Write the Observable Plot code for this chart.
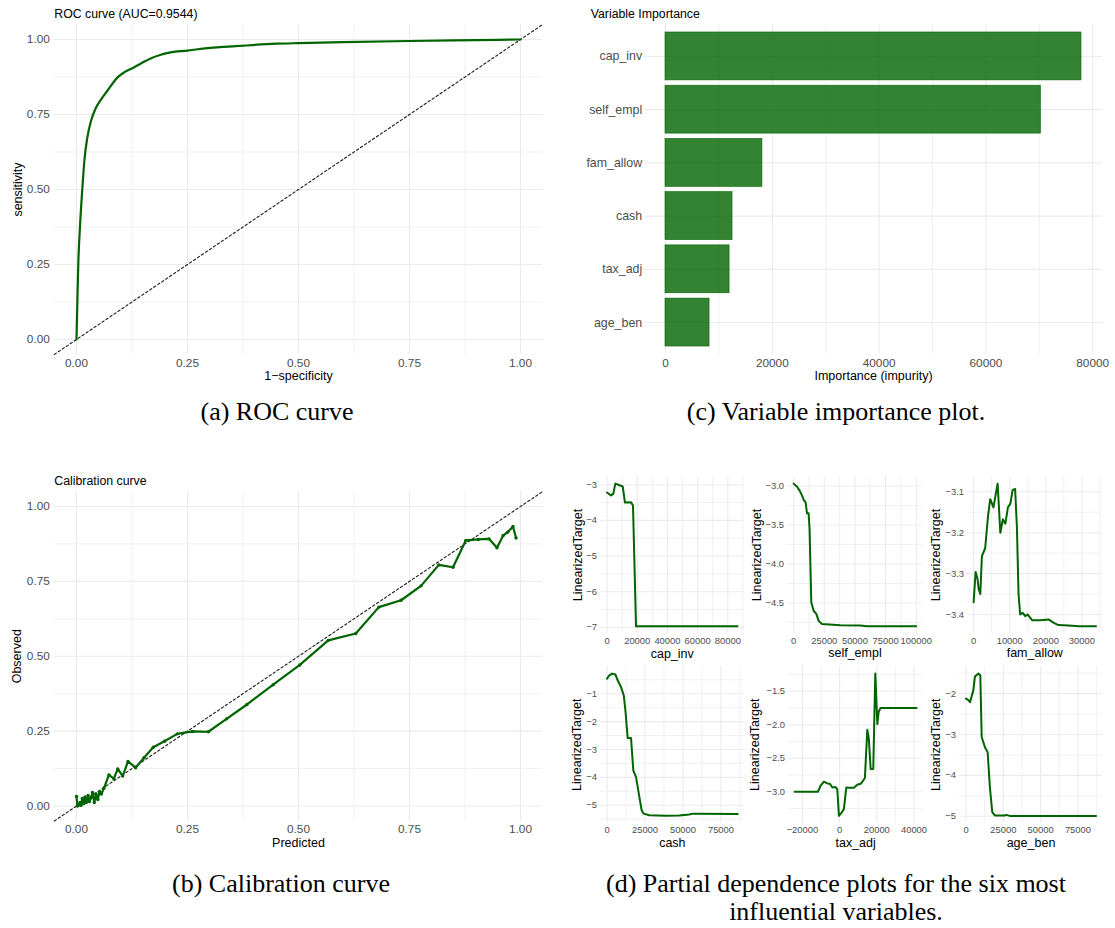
<!DOCTYPE html>
<html>
<head>
<meta charset="utf-8">
<script src="https://cdn.jsdelivr.net/npm/d3@7"></script>
<script src="https://cdn.jsdelivr.net/npm/@observablehq/plot@0.6"></script>
<style>
  html, body { margin: 0; padding: 0; background: #fff; }
  #fig { position: relative; width: 1115px; height: 928px; overflow: hidden; }
  .cap { position: absolute; font-family: "Liberation Serif", "Times New Roman", serif; font-size: 26px; line-height: 28px; text-align: center; color: #000; white-space: nowrap; }
</style>
</head>
<body>
<div id="fig"></div>
<script>
// ---------- data ----------
// (a) ROC curve
const rocFpr = [0, 0.002, 0.004, 0.008, 0.013, 0.018, 0.024, 0.033, 0.043, 0.054, 0.07, 0.092, 0.11, 0.129, 0.15, 0.167, 0.19, 0.212, 0.25, 0.28, 0.35, 0.45, 0.5, 0.6, 0.75, 0.9, 1];
const rocTpr = [0, 0.13, 0.25, 0.38, 0.5, 0.6, 0.67, 0.73, 0.77, 0.797, 0.83, 0.873, 0.893, 0.907, 0.924, 0.937, 0.949, 0.957, 0.963, 0.969, 0.977, 0.986, 0.988, 0.991, 0.995, 0.998, 1];
const rocAuc = "0.9544";

// (b) calibration curve
const calPred = [0.000, 0.002, 0.005, 0.008, 0.010, 0.013, 0.016, 0.019, 0.022, 0.026, 0.029, 0.033, 0.036, 0.040, 0.044, 0.048, 0.052, 0.056, 0.062, 0.073, 0.084, 0.093, 0.104, 0.116, 0.133, 0.152, 0.173, 0.198, 0.227, 0.261, 0.297, 0.338, 0.384, 0.443, 0.503, 0.567, 0.629, 0.681, 0.731, 0.776, 0.816, 0.848, 0.877, 0.905, 0.929, 0.947, 0.961, 0.971, 0.983, 0.990];
const calObs  = [0.032, 0.000, 0.003, 0.012, 0.002, 0.025, 0.008, 0.030, 0.012, 0.035, 0.015, 0.028, 0.045, 0.012, 0.040, 0.022, 0.048, 0.040, 0.060, 0.104, 0.091, 0.124, 0.100, 0.149, 0.128, 0.161, 0.196, 0.216, 0.241, 0.249, 0.248, 0.291, 0.339, 0.405, 0.471, 0.553, 0.576, 0.664, 0.687, 0.735, 0.805, 0.797, 0.887, 0.890, 0.892, 0.862, 0.903, 0.914, 0.933, 0.895];
const unitTicks = [0, 0.25, 0.5, 0.75, 1];
const unitMinor = [0.125, 0.375, 0.625, 0.875];
const unitDomain = [-0.05, 1.05];

// (c) variable importance
const vipVars = ["cap_inv", "self_empl", "fam_allow", "cash", "tax_adj", "age_ben"];
const vipImportance = [77900, 70300, 18150, 12550, 12000, 8250];
const vipTicks = [0, 20000, 40000, 60000, 80000];

// (d) partial dependence
const capInvX = [0, 2600, 4200, 5500, 10400, 11900, 15900, 17200, 19200, 86400];
const capInvY = [-3.22, -3.30, -3.25, -2.97, -3.05, -3.50, -3.49, -3.58, -6.97, -6.97];
const selfEmplX = [0, 2800, 4900, 6800, 8200, 9800, 10900, 12200, 13000, 13600, 14400, 16300, 18500, 20400, 23100, 38000, 54300, 59800, 100000];
const selfEmplY = [-2.97, -3.01, -3.06, -3.12, -3.18, -3.21, -3.35, -3.35, -3.55, -3.96, -4.49, -4.60, -4.64, -4.73, -4.77, -4.785, -4.79, -4.80, -4.80];
const famAllowX = [0, 550, 1100, 1400, 1850, 2300, 3200, 4000, 4600, 5500, 6200, 6650, 7400, 8100, 8800, 9500, 10200, 10800, 11500, 12000, 12450, 12900, 13600, 14300, 14950, 16200, 18500, 20800, 22100, 23500, 26300, 29100, 33900];
const famAllowY = [-3.37, -3.296, -3.314, -3.338, -3.35, -3.257, -3.238, -3.159, -3.118, -3.138, -3.102, -3.08, -3.20, -3.167, -3.178, -3.138, -3.129, -3.096, -3.093, -3.188, -3.351, -3.40, -3.396, -3.404, -3.40, -3.414, -3.414, -3.412, -3.42, -3.426, -3.427, -3.429, -3.429];
const cashX = [0, 1500, 3300, 5500, 7000, 9200, 11000, 12100, 13600, 15800, 17300, 19100, 21300, 22800, 24100, 27800, 38800, 47600, 54100, 56400, 86000];
const cashY = [-0.46, -0.34, -0.28, -0.31, -0.52, -0.76, -1.06, -1.60, -2.59, -2.59, -3.75, -3.99, -4.71, -5.18, -5.30, -5.36, -5.38, -5.37, -5.33, -5.30, -5.31];
const taxAdjX = [-24200, -11650, -10200, -8400, -6600, -5200, -3900, -2200, -1250, -360, 1100, 2300, 3600, 5000, 7700, 9500, 11600, 13600, 14900, 15700, 16700, 18100, 19200, 20300, 21000, 22000, 41400];
const taxAdjY = [-3.0, -3.0, -2.91, -2.85, -2.876, -2.88, -2.936, -2.93, -2.96, -3.36, -3.31, -3.26, -2.936, -2.94, -2.94, -2.895, -2.876, -2.795, -2.076, -2.20, -2.66, -2.66, -1.238, -1.99, -1.81, -1.75, -1.75];
const ageBenX = [0, 1600, 2700, 4900, 6000, 8300, 9600, 10500, 12700, 14500, 16000, 17600, 19300, 26000, 27100, 29300, 87100];
const ageBenY = [-2.12, -2.16, -2.21, -1.92, -1.58, -1.51, -1.55, -3.06, -3.31, -3.43, -4.29, -4.90, -4.98, -4.98, -4.965, -4.99, -4.99];

const capInvXTicks = [0, 20000, 40000, 60000, 80000], capInvYTicks = [-7, -6, -5, -4, -3];
const selfEmplXTicks = [0, 25000, 50000, 75000, 100000], selfEmplYTicks = [-4.5, -4.0, -3.5, -3.0];
const famAllowXTicks = [0, 10000, 20000, 30000], famAllowYTicks = [-3.4, -3.3, -3.2, -3.1];
const cashXTicks = [0, 25000, 50000, 75000], cashYTicks = [-5, -4, -3, -2, -1];
const taxAdjXTicks = [-20000, 0, 20000, 40000], taxAdjYTicks = [-3.0, -2.5, -2.0, -1.5];
const ageBenXTicks = [0, 25000, 50000, 75000], ageBenYTicks = [-5, -4, -3, -2];

// ---------- helpers ----------
const GREEN = "#006400";
const GRID = "#ebebeb";
const TICK = "#4d4d4d";
const SANS = "'Liberation Sans', Arial, Helvetica, sans-serif";
const fig = document.getElementById("fig");

const table = (xs, ys) => xs.map((x, i) => ({x, y: ys[i]}));
const expand = (values, f = 0.05) => { const [a, b] = d3.extent(values); const p = (b - a) * f; return [a - p, b + p]; };
function minorOf(major, domain) {
  const s = major[1] - major[0];
  const ext = [major[0] - s, ...major, major[major.length - 1] + s];
  const out = [];
  for (let i = 0; i < ext.length - 1; i++) {
    const m = (ext[i] + ext[i + 1]) / 2;
    if (m >= domain[0] && m <= domain[1]) out.push(m);
  }
  return out;
}
function layout(box, panel) {
  return {
    width: box.w, height: box.h,
    marginLeft: panel.l - box.x,
    marginRight: box.x + box.w - panel.r,
    marginTop: panel.t - box.y,
    marginBottom: box.y + box.h - panel.b
  };
}
function mount(svg, box) {
  svg.style.position = "absolute";
  svg.style.left = box.x + "px";
  svg.style.top = box.y + "px";
  fig.appendChild(svg);
}
function gridLines(xMajor, xMinor, yMajor, yMinor) {
  const marks = [];
  if (xMinor) marks.push(Plot.gridX(xMinor, {stroke: GRID, strokeOpacity: 1, strokeWidth: 0.7}));
  if (yMinor) marks.push(Plot.gridY(yMinor, {stroke: GRID, strokeOpacity: 1, strokeWidth: 0.7}));
  if (xMajor) marks.push(Plot.gridX(xMajor, {stroke: GRID, strokeOpacity: 1, strokeWidth: 1.1}));
  if (yMajor) marks.push(Plot.gridY(yMajor, {stroke: GRID, strokeOpacity: 1, strokeWidth: 1.1}));
  return marks;
}
const label = (text, o) => Plot.text([text], {text: d => d, fill: "#000", fontFamily: SANS, ...o});
const yTitle = (text, dx) => label(text, {frameAnchor: "left", textAnchor: "middle", lineAnchor: "middle", rotate: -90, dx, fontSize: 12.5});
const baseStyle = (fs) => ({fontFamily: SANS, fontSize: fs + "px", background: "transparent", overflow: "visible"});
const fmt2 = d3.format(".2f");
const diagonal = () => Plot.line(unitDomain, {x: d => d, y: d => d, stroke: "#1a1a1a", strokeWidth: 1.1, strokeDasharray: "2.4,2.4"});

// ---------- (a) ROC curve ----------
{
  const box = {x: 0, y: 0, w: 557, h: 392};
  const panel = {l: 53.8, r: 542.2, t: 24, b: 354};
  const svg = Plot.plot({
    ...layout(box, panel),
    style: baseStyle(11.8),
    x: {domain: unitDomain},
    y: {domain: unitDomain},
    marks: [
      ...gridLines(unitTicks, unitMinor, unitTicks, unitMinor),
      diagonal(),
      Plot.line(table(rocFpr, rocTpr), {x: "x", y: "y", stroke: GREEN, strokeWidth: 2.2, curve: "monotone-x"}),
      Plot.axisX({ticks: unitTicks, tickSize: 0, tickPadding: 3.7, tickFormat: fmt2, color: TICK, fontSize: 11.8, label: null}),
      Plot.axisY({ticks: unitTicks, tickSize: 0, tickPadding: 4.5, tickFormat: fmt2, color: TICK, fontSize: 11.8, label: null}),
      label(`ROC curve (AUC=${rocAuc})`, {frameAnchor: "top-left", textAnchor: "start", lineAnchor: "middle", dy: -10, fontSize: 12.3}),
      label("1−specificity", {frameAnchor: "bottom", lineAnchor: "middle", dy: 21.5, fontSize: 12.5}),
      yTitle("sensitivity", -36)
    ]
  });
  mount(svg, box);
}

// ---------- (c) variable importance ----------
{
  const box = {x: 557, y: 0, w: 558, h: 392};
  const panel = {l: 644.2, r: 1101.8, t: 24, b: 354};
  const vip = vipVars.map((v, i) => ({variable: v, importance: vipImportance[i]}));
  const xDomain = expand([0, ...vipImportance]);
  const svg = Plot.plot({
    ...layout(box, panel),
    style: baseStyle(11.8),
    x: {domain: xDomain},
    y: {type: "band", domain: vipVars, paddingInner: 0.1, paddingOuter: 0.15, round: false},
    marks: [
      ...gridLines(vipTicks, minorOf(vipTicks, xDomain), vipVars, null),
      Plot.barX(vip, {x: "importance", y: "variable", fill: GREEN, fillOpacity: 0.8, stroke: GREEN, strokeWidth: 0.6}),
      Plot.axisX({ticks: vipTicks, tickSize: 0, tickPadding: 3.7, tickFormat: d3.format("d"), color: TICK, fontSize: 11.8, label: null}),
      Plot.axisY({tickSize: 0, tickPadding: 2.5, color: TICK, fontSize: 12.4, label: null}),
      label("Variable Importance", {frameAnchor: "top-left", textAnchor: "start", lineAnchor: "middle", dx: -54, dy: -10, fontSize: 12.3}),
      label("Importance (impurity)", {frameAnchor: "bottom", lineAnchor: "middle", dy: 21.5, fontSize: 12.5})
    ]
  });
  mount(svg, box);
}

// ---------- (b) calibration curve ----------
{
  const box = {x: 0, y: 462, w: 557, h: 392};
  const panel = {l: 53.8, r: 542.2, t: 491, b: 820.5};
  const cal = table(calPred, calObs);
  const svg = Plot.plot({
    ...layout(box, panel),
    style: baseStyle(11.8),
    x: {domain: unitDomain},
    y: {domain: unitDomain},
    marks: [
      ...gridLines(unitTicks, unitMinor, unitTicks, unitMinor),
      diagonal(),
      Plot.line(cal, {x: "x", y: "y", stroke: GREEN, strokeWidth: 2.2}),
      Plot.dot(cal, {x: "x", y: "y", r: 1.7, fill: GREEN, stroke: "none"}),
      Plot.axisX({ticks: unitTicks, tickSize: 0, tickPadding: 3.7, tickFormat: fmt2, color: TICK, fontSize: 11.8, label: null}),
      Plot.axisY({ticks: unitTicks, tickSize: 0, tickPadding: 4.5, tickFormat: fmt2, color: TICK, fontSize: 11.8, label: null}),
      label("Calibration curve", {frameAnchor: "top-left", textAnchor: "start", lineAnchor: "middle", dy: -10, fontSize: 12.3}),
      label("Predicted", {frameAnchor: "bottom", lineAnchor: "middle", dy: 21.5, fontSize: 12.5}),
      yTitle("Observed", -37)
    ]
  });
  mount(svg, box);
}

// ---------- (d) partial dependence plots ----------
function pdp({name, xs, ys, xTicks, yTicks, yFormat, panel, titleDx}) {
  const box = {x: panel.l - 50, y: panel.t - 12, w: panel.r - panel.l + 54, h: panel.b - panel.t + 36};
  const xDomain = expand(xs), yDomain = expand(ys);
  const svg = Plot.plot({
    ...layout(box, panel),
    style: baseStyle(9.4),
    x: {domain: xDomain},
    y: {domain: yDomain},
    marks: [
      ...gridLines(xTicks, minorOf(xTicks, xDomain), yTicks, minorOf(yTicks, yDomain)),
      Plot.line(table(xs, ys), {x: "x", y: "y", stroke: GREEN, strokeWidth: 2}),
      Plot.axisX({ticks: xTicks, tickSize: 0, tickPadding: 3.5, tickFormat: d3.format("d"), color: TICK, fontSize: 9.4, label: null}),
      Plot.axisY({ticks: yTicks, tickSize: 0, tickPadding: 3.5, tickFormat: d3.format(yFormat), color: TICK, fontSize: 9.4, label: null}),
      label(name, {frameAnchor: "bottom", lineAnchor: "middle", dy: 20, fontSize: 12.5}),
      yTitle("LinearizedTarget", titleDx)
    ]
  });
  mount(svg, box);
}
const row1 = {t: 476, b: 633}, row2 = {t: 666, b: 822.5};
pdp({name: "cap_inv", xs: capInvX, ys: capInvY, xTicks: capInvXTicks, yTicks: capInvYTicks, yFormat: "d", panel: {l: 599.5, r: 743, ...row1}, titleDx: -22.5});
pdp({name: "self_empl", xs: selfEmplX, ys: selfEmplY, xTicks: selfEmplXTicks, yTicks: selfEmplYTicks, yFormat: ".1f", panel: {l: 787.2, r: 922.1, ...row1}, titleDx: -30.5});
pdp({name: "fam_allow", xs: famAllowX, ys: famAllowY, xTicks: famAllowXTicks, yTicks: famAllowYTicks, yFormat: ".1f", panel: {l: 967.2, r: 1101.8, ...row1}, titleDx: -32});
pdp({name: "cash", xs: cashX, ys: cashY, xTicks: cashXTicks, yTicks: cashYTicks, yFormat: "d", panel: {l: 599.5, r: 743.2, ...row2}, titleDx: -23});
pdp({name: "tax_adj", xs: taxAdjX, ys: taxAdjY, xTicks: taxAdjXTicks, yTicks: taxAdjYTicks, yFormat: ".1f", panel: {l: 787.9, r: 922.1, ...row2}, titleDx: -33});
pdp({name: "age_ben", xs: ageBenX, ys: ageBenY, xTicks: ageBenXTicks, yTicks: ageBenYTicks, yFormat: "d", panel: {l: 958.5, r: 1101.5, ...row2}, titleDx: -23.5});

// ---------- captions ----------
const captions = [
  {text: "(a) ROC curve", cx: 277, cy: 412},
  {text: "(c) Variable importance plot.", cx: 836, cy: 412},
  {text: "(b) Calibration curve", cx: 281, cy: 884},
  {text: "(d) Partial dependence plots for the six most", cx: 836, cy: 884},
  {text: "influential variables.", cx: 836, cy: 912}
];
for (const c of captions) {
  const div = document.createElement("div");
  div.className = "cap";
  div.textContent = c.text;
  div.style.left = (c.cx - 300) + "px";
  div.style.width = "600px";
  div.style.top = (c.cy - 14) + "px";
  fig.appendChild(div);
}
</script>
</body>
</html>
